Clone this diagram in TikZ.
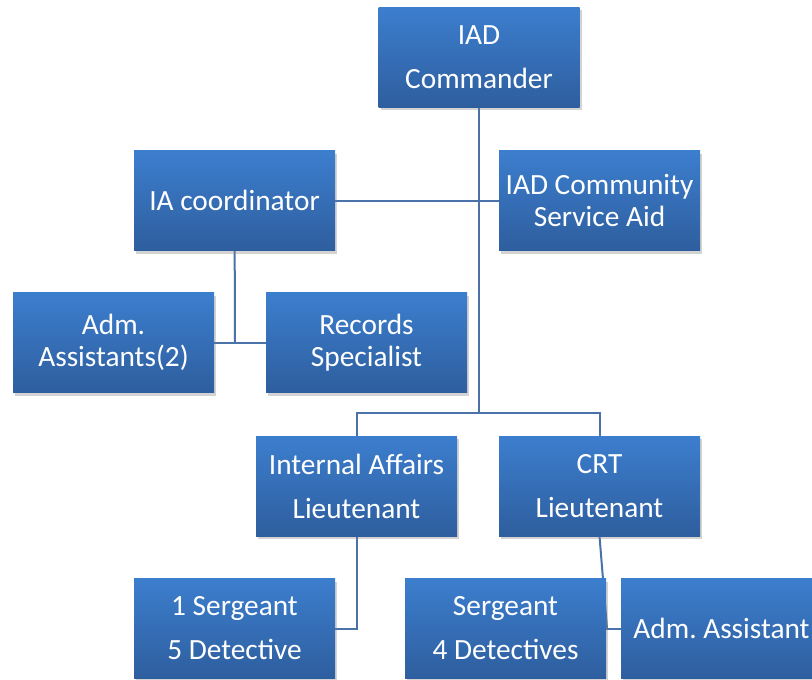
\documentclass[tikz,border=0pt]{standalone}
\usepackage{fontspec}
\setmainfont{Carlito}
\usetikzlibrary{shadows,backgrounds}

\definecolor{boxtop}{RGB}{60,126,206}
\definecolor{boxbot}{RGB}{46,94,158}
\definecolor{wire}{RGB}{74,114,168}

\tikzset{
  orgbox/.style={rectangle, minimum width=201*0.75pt, minimum height=100*0.75pt,
    inner sep=0pt, align=center, text=white, top color=boxtop, bottom color=boxbot,
    drop shadow={shadow xshift=1.5pt, shadow yshift=-2.5pt, opacity=0.35},
    font=\fontsize{22}{24}\selectfont\frenchspacing},
  loose/.style={font=\fontsize{22}{33}\selectfont\frenchspacing},
  wire/.style={draw=wire, line width=1.5pt}
}

\begin{document}
\begin{tikzpicture}[x=0.75pt, y=-0.75pt]
				\useasboundingbox (0,0) rectangle (812,679);
				\clip (0,0) rectangle (812,679);

				\node (Cmd) [orgbox, loose] at (479, 57) {IAD\\Commander};

				\node (Coord) [orgbox] at (234.5, 200.5) {IA coordinator};
				\node (Aid) [orgbox] at (599.5, 200.5) {IAD Community\\Service Aid};

				\node (AdmTwo) [orgbox] at (113.5, 342.5) {Adm.\\Assistants(2)};
				\node (Records) [orgbox] at (366.5, 342.5) {Records\\Specialist};

				\node (IALt) [orgbox, loose] at (356.5, 486) {Internal Affairs\\Lieutenant};
				\node (CRTLt) [orgbox, loose] at (599.5, 486) {CRT\\Lieutenant};

				\node (IASgt) [orgbox, loose] at (234.5, 628.5) {1 Sergeant\\5 Detective};
				\node (CRTSgt) [orgbox, loose] at (505.5, 628.5) {Sergeant\\4 Detectives};
				\node (CRTAdm) [orgbox] at (721.5, 628.5) {Adm. Assistant};

				\begin{scope}[on background layer]
					\coordinate (Split) at (479, 413);
					\draw [wire] (Cmd) -- (Split);
					\draw [wire] (IALt.north) |- (Split);
					\draw [wire] (CRTLt.north) |- (Split);

					\draw [wire] (Coord.east) -- (Aid.west);

					\coordinate (CoordJoin) at (235, 343);
					\draw [wire] (Coord) -- (CoordJoin);
					\draw [wire] (AdmTwo.east) -- (Records.west);

					\draw [wire] (IALt.south) |- (IASgt.east);

					\coordinate (CRTJoin) at (607, 628);
					\draw [wire] (CRTLt.south) -- (CRTJoin);
					\draw [wire] (CRTSgt.east) -- (CRTAdm.west);
				\end{scope}
			\end{tikzpicture}
\end{document}
